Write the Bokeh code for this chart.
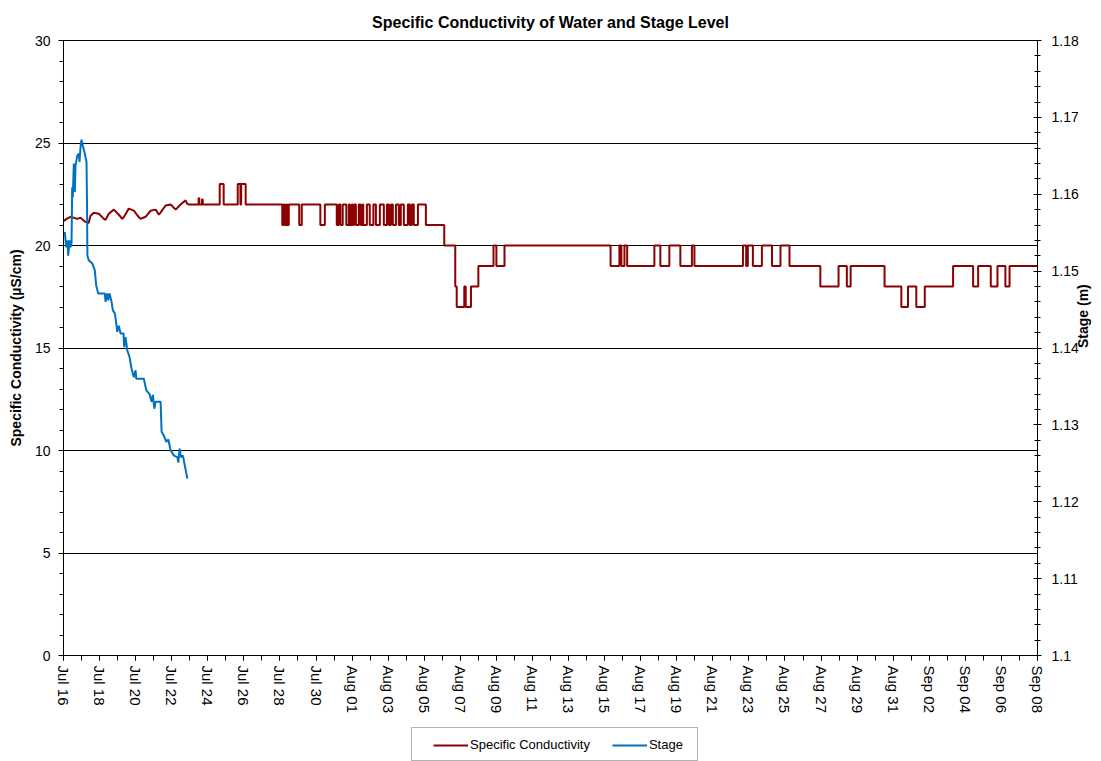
import math
import pandas as pd
from bokeh.plotting import figure
from bokeh.layouts import column
from bokeh.models import (Range1d, LinearAxis, FixedTicker, DatetimeTickFormatter,
                          Legend, LegendItem, PrintfTickFormatter, BoxAnnotation)
from bokeh.embed import file_html
from bokeh.resources import INLINE

# ---------------- data (days since Jul 16 00:00) ----------------
START = pd.Timestamp("2010-07-16")
END = pd.Timestamp("2010-09-08")

cond_early_day = [0.03, 0.17, 0.39, 0.76, 0.94, 1.22, 1.39, 1.50, 1.68, 1.96,
                  2.24, 2.33, 2.51, 2.79, 3.07, 3.26, 3.39, 3.62, 3.90, 4.11,
                  4.27, 4.55, 4.83, 5.11, 5.29, 5.38, 5.66, 5.94, 6.22, 6.49,
                  6.77, 6.88]
cond_early_val = [21.2, 21.3, 21.4, 21.3, 21.35, 21.15, 21.1, 21.45, 21.6, 21.55,
                  21.3, 21.25, 21.55, 21.75, 21.5, 21.3, 21.45, 21.8, 21.7, 21.45,
                  21.3, 21.4, 21.7, 21.75, 21.5, 21.6, 21.95, 22.0, 21.75, 22.0,
                  22.2, 22.0]

# stepped part: value holds from that day until the next change
cond_step_day = [6.88, 7.49, 7.53, 7.68, 7.72, 8.66, 8.88, 9.66, 9.81, 9.85, 10.10,
                 12.13, 12.21, 12.27, 12.35, 12.40, 12.49, 13.07, 13.21, 14.24, 14.49,
                 15.15, 15.26, 15.35, 15.48, 15.68, 15.82, 15.87, 15.98, 16.04, 16.12,
                 16.21, 16.37, 16.48, 16.57, 16.62, 16.82, 16.98, 17.18, 17.32, 17.54,
                 17.76, 17.93, 18.04, 18.15, 18.26, 18.43, 18.59, 18.70, 18.87, 19.09,
                 19.20, 19.31, 19.42, 19.65,
                 20.09, 21.11, 21.72, 21.80, 22.22, 22.30, 22.59, 23.00, 23.84, 24.00,
                 24.45, 30.33, 30.82, 30.93, 31.10, 31.25, 32.76, 33.09, 33.59, 34.20,
                 34.84, 34.98, 37.67, 37.85, 37.94, 38.22, 38.72, 39.28, 39.75, 40.25,
                 41.96, 42.97, 43.43, 43.64, 45.52, 46.45, 46.82, 47.28, 47.75, 49.32,
                 50.43, 50.71, 51.41, 51.78, 52.22, 52.45, 54.0]
cond_step_val = [22, 22.3, 22, 22.25, 22, 23, 22, 23, 22, 23, 22,
                 21, 22, 21, 22, 21, 22, 21, 22, 21, 22,
                 21, 22, 21, 22, 21, 22, 21, 22, 21, 22,
                 21, 22, 21, 22, 21, 22, 21, 22, 21, 22,
                 21, 22, 21, 22, 21, 22, 21, 22, 21, 22,
                 21, 22, 21, 22,
                 21, 20, 18, 17, 18, 17, 18, 19, 20, 19,
                 20, 19, 20, 19, 20, 19, 20, 19, 20, 19,
                 20, 19, 20, 19, 20, 19, 20, 19, 20, 19,
                 18, 19, 18, 19, 18, 17, 18, 17, 18, 19,
                 18, 19, 18, 19, 18, 19, 19]

stage_day = [0.072, 0.150, 0.222, 0.261, 0.333, 0.389, 0.444, 0.483, 0.516, 0.572,
             0.627, 0.666, 0.760, 0.849, 0.888, 0.943, 0.999, 1.071, 1.182, 1.276,
             1.304, 1.326, 1.404, 1.593, 1.737, 1.815, 1.926, 2.292, 2.331, 2.425,
             2.481, 2.553, 2.664, 2.736, 2.847, 2.925, 2.980, 3.069, 3.163, 3.330,
             3.363, 3.441, 3.535, 3.663, 3.774, 3.902, 3.996, 4.035, 4.456, 4.590,
             4.773, 4.884, 4.956, 5.034, 5.106, 5.383, 5.439, 5.566, 5.700, 5.811,
             5.938, 6.122, 6.310, 6.366, 6.438, 6.510, 6.621, 6.865]
stage_val = [1.1551, 1.1531, 1.1540, 1.1520, 1.1540, 1.1531, 1.1536, 1.1609, 1.1596, 1.1640,
             1.1603, 1.1637, 1.1650, 1.1653, 1.1642, 1.1661, 1.1671, 1.1663, 1.1653, 1.1642,
             1.1588, 1.1520, 1.1514, 1.1510, 1.1501, 1.1481, 1.1471, 1.1471, 1.1460, 1.1471,
             1.1462, 1.1471, 1.1460, 1.1449, 1.1445, 1.1432, 1.1421, 1.1429, 1.1419, 1.1419,
             1.1401, 1.1414, 1.1397, 1.1388, 1.1373, 1.1362, 1.1371, 1.1360, 1.1360, 1.1345,
             1.1340, 1.1330, 1.1339, 1.1321, 1.1330, 1.1330, 1.1291, 1.1286, 1.1278, 1.1281,
             1.1267, 1.1260, 1.1258, 1.1251, 1.1269, 1.1258, 1.1260, 1.1230]

cond_ticks = [0, 5, 10, 15, 20, 25, 30]
stage_ticks = [1.10, 1.11, 1.12, 1.13, 1.14, 1.15, 1.16, 1.17, 1.18]
series_labels = ["Specific Conductivity", "Stage"]

# ---------------- helpers ----------------
def to_dt(days):
    return [START + pd.Timedelta(days=d) for d in days]

def ms(ts):
    return ts.value / 1e6

FONT = "Liberation Sans"
RED = "#8B0000"
BLUE = "#0070C0"

major_x = [ms(t) for t in pd.date_range(START, END, freq="2D")]
minor_x = [ms(t) for t in pd.date_range(START, END, freq="1D")]

p = figure(width=1101, height=721, x_axis_type="datetime",
           x_range=Range1d(ms(START), ms(END)), y_range=Range1d(0, 30),
           output_backend="svg", toolbar_location=None,
           min_border_left=63, min_border_right=62, min_border_top=40,
           min_border_bottom=66)
p.extra_y_ranges = {"stage": Range1d(1.1, 1.18)}

p.title.text = "Specific Conductivity of Water and Stage Level"
p.title.align = "center"
p.title.text_font = FONT
p.title.text_font_size = "16px"
p.title.text_font_style = "bold"
p.title.text_color = "black"
p.title.standoff = 20

p.outline_line_color = "black"
p.outline_line_width = 1
p.background_fill_color = "white"
p.border_fill_color = "white"

# grid
p.xgrid.visible = False
p.ygrid.ticker = FixedTicker(ticks=cond_ticks)
p.ygrid.grid_line_color = "black"
p.ygrid.grid_line_width = 1

# x axis
xa = p.xaxis[0]
xa.ticker = FixedTicker(ticks=major_x, minor_ticks=minor_x)
xa.formatter = DatetimeTickFormatter(days="%b %d", months="%b %d", hours="%b %d")
xa.major_label_orientation = -math.pi / 2
xa.major_label_text_font = FONT
xa.major_label_text_font_size = "15px"
xa.major_label_text_color = "black"
xa.axis_line_color = "black"
xa.major_tick_in = 0
xa.major_tick_out = 5
xa.minor_tick_in = 0
xa.minor_tick_out = 5
xa.major_tick_line_color = "black"
xa.minor_tick_line_color = "black"

# left axis
ya = p.yaxis[0]
ya.ticker = FixedTicker(ticks=cond_ticks, minor_ticks=list(range(0, 31)))
ya.axis_label = "Specific Conductivity (µS/cm)"
ya.axis_label_text_font = FONT
ya.axis_label_text_font_size = "14px"
ya.axis_label_text_font_style = "bold"
ya.axis_label_text_color = "black"
ya.axis_label_standoff = 8
ya.major_label_standoff = 8
ya.major_label_text_font = FONT
ya.major_label_text_font_size = "14px"
ya.major_label_text_color = "black"
ya.major_tick_in = 0
ya.major_tick_out = 5
ya.minor_tick_in = 0
ya.minor_tick_out = 4
ya.axis_line_color = "black"
ya.major_tick_line_color = "black"
ya.minor_tick_line_color = "black"

# right axis
minor_stage = [1.1 + 0.002 * i for i in range(41)]
ra = LinearAxis(y_range_name="stage", axis_label="Stage (m)",
                ticker=FixedTicker(ticks=stage_ticks, minor_ticks=minor_stage),
                formatter=PrintfTickFormatter(format="%g"))
ra.axis_label_text_font = FONT
ra.axis_label_text_font_size = "14px"
ra.axis_label_text_font_style = "bold"
ra.axis_label_text_color = "black"
ra.axis_label_standoff = 1
if "axis_label_orientation" in ra.properties():
    ra.axis_label_orientation = math.pi / 2
ra.major_label_standoff = 10
ra.major_label_text_font = FONT
ra.major_label_text_font_size = "14px"
ra.major_label_text_color = "black"
ra.major_tick_in = 4
ra.major_tick_out = 4
ra.minor_tick_in = 3
ra.minor_tick_out = 3
ra.axis_line_color = "black"
ra.major_tick_line_color = "black"
ra.minor_tick_line_color = "black"
p.add_layout(ra, "right")

# series
r1 = p.line(to_dt(cond_early_day), cond_early_val, line_color=RED, line_width=2)
r2 = p.step(to_dt(cond_step_day), cond_step_val, mode="after", line_color=RED, line_width=2)
r3 = p.line(to_dt(stage_day), stage_val, y_range_name="stage", line_color=BLUE, line_width=2)

# ---------------- legend strip below the chart ----------------
# same series drawn again, but outside this strip's visible range, only to feed the legend
lg = figure(width=1101, height=40, x_axis_type="datetime",
            x_range=Range1d(ms(START), ms(END)), y_range=Range1d(100, 101),
            output_backend="svg", toolbar_location=None,
            x_axis_location=None, y_axis_location=None,
            min_border=0, outline_line_color=None)
lg.xgrid.visible = False
lg.ygrid.visible = False
lr1 = lg.line(to_dt(cond_early_day), cond_early_val, line_color=RED, line_width=2)
lr2 = lg.line(to_dt(stage_day), stage_val, line_color=BLUE, line_width=2)

# (the strip's frame is aligned with the chart's frame, which starts 63px in)
frame_box = BoxAnnotation(left=348, right=634, top=34, bottom=1,
                          left_units="screen", right_units="screen",
                          top_units="screen", bottom_units="screen",
                          fill_color=None, line_color="black", line_width=1)
lg.add_layout(frame_box)

legend = Legend(items=[LegendItem(label=series_labels[0], renderers=[lr1]),
                       LegendItem(label=series_labels[1], renderers=[lr2])],
                orientation="horizontal", location=(370, 9))
legend.label_text_font = FONT
legend.label_text_font_size = "13px"
legend.label_text_color = "black"
legend.border_line_color = None
legend.background_fill_alpha = 0
legend.glyph_width = 35
legend.glyph_height = 14
legend.spacing = 22
legend.padding = 9
legend.margin = 0
legend.label_standoff = 2
legend.label_height = 15
lg.add_layout(legend, "center")

layout = column(p, lg, spacing=0)
open("out.html", "w").write(file_html(layout, INLINE))
